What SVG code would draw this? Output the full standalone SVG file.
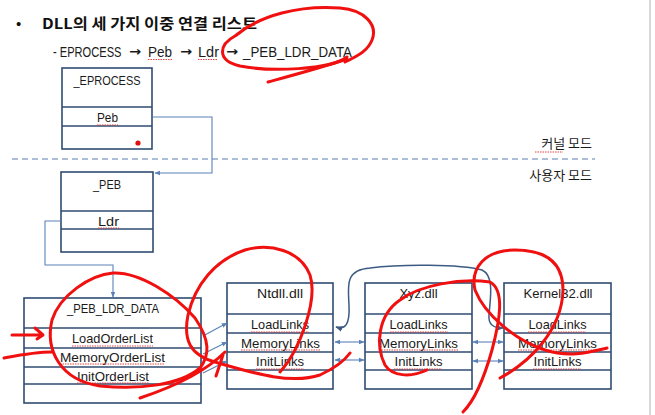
<svg xmlns="http://www.w3.org/2000/svg" width="655" height="415" viewBox="0 0 655 415">
<defs>
<marker id="ah" viewBox="0 0 10 10" refX="9" refY="5" markerWidth="6" markerHeight="6" orient="auto-start-reverse" markerUnits="userSpaceOnUse">
<path d="M0,1 L10,5 L0,9 z" fill="#5B82B8"/>
</marker>
<marker id="ahd" viewBox="0 0 10 10" refX="9" refY="5" markerWidth="7" markerHeight="7" orient="auto-start-reverse" markerUnits="userSpaceOnUse">
<path d="M0,1 L10,5 L0,9 z" fill="#3C5A82"/>
</marker>
<style>
.box{fill:#fff;stroke:#2F4B72;stroke-width:1.6}
.div{stroke:#2F4B72;stroke-width:1.6}
.t{font-family:"Liberation Sans","Noto Sans CJK KR",sans-serif;font-size:13.5px;fill:#1a1a1a;text-anchor:middle}
.k{font-family:"Noto Sans CJK KR","Liberation Sans",sans-serif;font-size:13px;fill:#1a1a1a}
.s{font-family:"Liberation Sans","Noto Sans CJK KR",sans-serif;font-size:15px;fill:#1a1a1a}
.ar{font-family:"DejaVu Sans",sans-serif;font-weight:bold;font-size:13px;fill:#1a1a1a}
.c{fill:none;stroke:#5B82B8;stroke-width:1.1}
.sq{fill:none;stroke:#E03030;stroke-width:0.9;stroke-dasharray:1.5 1}
.red{fill:none;stroke:#F01010;stroke-width:3;stroke-linecap:round;stroke-linejoin:round}
</style>
</defs>
<rect width="655" height="415" fill="#fff"/>
<line x1="650" y1="0" x2="650" y2="415" stroke="#d8d8d8" stroke-width="2"/>

<g id="header">
<text x="16" y="29" font-family="Liberation Sans,sans-serif" font-size="15" fill="#111">•</text>
<text x="42" y="29" font-family="Noto Sans CJK KR,Liberation Sans,sans-serif" font-size="15" font-weight="bold" fill="#111" textLength="215" lengthAdjust="spacingAndGlyphs">DLL의 세 가지 이중 연결 리스트</text>
<text class="s" transform="translate(53,57) scale(0.74,1)" x="0" y="0">- EPROCESS</text>
<text class="ar" x="129" y="56" textLength="12" lengthAdjust="spacingAndGlyphs">→</text>
<text class="s" x="148" y="57" textLength="24" lengthAdjust="spacingAndGlyphs">Peb</text>
<text class="ar" x="180" y="56" textLength="12" lengthAdjust="spacingAndGlyphs">→</text>
<text class="s" x="198" y="57" textLength="21" lengthAdjust="spacingAndGlyphs">Ldr</text>
<text class="ar" x="226" y="56" textLength="12" lengthAdjust="spacingAndGlyphs">→</text>
<text class="s" x="243" y="57" textLength="109" lengthAdjust="spacingAndGlyphs">_PEB_LDR_DATA</text>
<path class="sq" d="M148,59.5 H172 M198,59.5 H218"/>
</g>

<g id="mode">
<line x1="12" y1="159" x2="595" y2="159" stroke="#5B7FB0" stroke-width="1" stroke-dasharray="6 4"/>
<text class="k" x="592" y="148" text-anchor="end">커널 모드</text>
<text class="k" x="592" y="180" text-anchor="end">사용자 모드</text>
<path class="sq" d="M535,152 H563"/>
</g>

<g id="eprocess">
<rect class="box" x="62" y="68" width="90" height="81"/>
<line class="div" x1="62" y1="107" x2="152" y2="107"/>
<line class="div" x1="62" y1="126" x2="152" y2="126"/>
<text class="t" x="107" y="85" textLength="67" lengthAdjust="spacingAndGlyphs">_EPROCESS</text>
<text class="t" x="107.5" y="122" textLength="21" lengthAdjust="spacingAndGlyphs">Peb</text>
<path class="sq" d="M97,125 H118"/>
<circle cx="138" cy="143" r="2.6" fill="#E01010"/>
</g>

<g id="peb">
<rect class="box" x="61" y="172" width="92" height="80"/>
<line class="div" x1="61" y1="211" x2="153" y2="211"/>
<line class="div" x1="61" y1="229" x2="153" y2="229"/>
<text class="t" x="107" y="189" textLength="28" lengthAdjust="spacingAndGlyphs">_PEB</text>
<text class="t" x="108.5" y="226" textLength="21" lengthAdjust="spacingAndGlyphs">Ldr</text>
<path class="sq" d="M98,228 H119"/>
</g>

<g id="peb_ldr_data">
<rect class="box" x="24" y="298" width="177" height="105"/>
<line class="div" x1="24" y1="328" x2="201" y2="328"/>
<line class="div" x1="24" y1="348" x2="201" y2="348"/>
<line class="div" x1="24" y1="367" x2="201" y2="367"/>
<line class="div" x1="24" y1="384" x2="201" y2="384"/>
<text class="t" x="113" y="313" textLength="92" lengthAdjust="spacingAndGlyphs">_PEB_LDR_DATA</text>
<text class="t" x="112.5" y="343" textLength="81" lengthAdjust="spacingAndGlyphs">LoadOrderList</text>
<text class="t" x="112.5" y="362" textLength="105" lengthAdjust="spacingAndGlyphs">MemoryOrderList</text>
<text class="t" x="113" y="381" textLength="72" lengthAdjust="spacingAndGlyphs">InitOrderList</text>
<path class="sq" d="M72,346 H153 M60,364 H165 M77,383 H149"/>
</g>

<g id="ntdll">
<rect class="box" x="227" y="283" width="106" height="106"/>
<line class="div" x1="227" y1="314" x2="333" y2="314"/>
<line class="div" x1="227" y1="333" x2="333" y2="333"/>
<line class="div" x1="227" y1="352" x2="333" y2="352"/>
<line class="div" x1="227" y1="370" x2="333" y2="370"/>
<text class="t" x="280" y="298" textLength="46" lengthAdjust="spacingAndGlyphs">Ntdll.dll</text>
<text class="t" x="280" y="329" textLength="58" lengthAdjust="spacingAndGlyphs">LoadLinks</text>
<text class="t" x="280.5" y="348" textLength="79" lengthAdjust="spacingAndGlyphs">MemoryLinks</text>
<text class="t" x="280" y="366" textLength="48" lengthAdjust="spacingAndGlyphs">InitLinks</text>
<path class="sq" d="M251,332 H309 M241,350 H320 M256,369 H304"/>
</g>

<g id="xyz">
<rect class="box" x="365" y="283" width="107" height="106"/>
<line class="div" x1="365" y1="314" x2="472" y2="314"/>
<line class="div" x1="365" y1="333" x2="472" y2="333"/>
<line class="div" x1="365" y1="352" x2="472" y2="352"/>
<line class="div" x1="365" y1="370" x2="472" y2="370"/>
<text class="t" x="418.5" y="298" textLength="38" lengthAdjust="spacingAndGlyphs">Xyz.dll</text>
<text class="t" x="418.5" y="329" textLength="58" lengthAdjust="spacingAndGlyphs">LoadLinks</text>
<text class="t" x="418.5" y="348" textLength="79" lengthAdjust="spacingAndGlyphs">MemoryLinks</text>
<text class="t" x="418.5" y="366" textLength="48" lengthAdjust="spacingAndGlyphs">InitLinks</text>
<path class="sq" d="M390,332 H448 M379,350 H458 M394,369 H442"/>
</g>

<g id="kernel32">
<rect class="box" x="504" y="283" width="107" height="106"/>
<line class="div" x1="504" y1="314" x2="611" y2="314"/>
<line class="div" x1="504" y1="333" x2="611" y2="333"/>
<line class="div" x1="504" y1="352" x2="611" y2="352"/>
<line class="div" x1="504" y1="370" x2="611" y2="370"/>
<text class="t" x="558" y="298" textLength="69" lengthAdjust="spacingAndGlyphs">Kernel32.dll</text>
<text class="t" x="557.5" y="329" textLength="58" lengthAdjust="spacingAndGlyphs">LoadLinks</text>
<text class="t" x="557.5" y="348" textLength="79" lengthAdjust="spacingAndGlyphs">MemoryLinks</text>
<text class="t" x="557.5" y="366" textLength="48" lengthAdjust="spacingAndGlyphs">InitLinks</text>
<path class="sq" d="M528,332 H586 M518,350 H597 M533,369 H581"/>
</g>

<g id="connectors">
<path class="c" d="M153,117 H212 V173 H155" marker-end="url(#ah)"/>
<path class="c" d="M61,221 H45 V265 H113 V297" marker-end="url(#ah)"/>
<path class="c" d="M203,336 L227,323" marker-end="url(#ah)"/>
<path class="c" d="M203,354 L227,342" marker-end="url(#ah)"/>
<path class="c" d="M203,373 L227,361" marker-end="url(#ah)"/>
<path class="c" d="M335,342 H364" marker-start="url(#ah)" marker-end="url(#ah)"/>
<path class="c" d="M335,360 H364" marker-start="url(#ah)" marker-end="url(#ah)"/>
<path class="c" d="M473,342 H503" marker-start="url(#ah)" marker-end="url(#ah)"/>
<path class="c" d="M473,361 H503" marker-start="url(#ah)" marker-end="url(#ah)"/>
<path d="M336,327 C345,330 350,325 349,305 C348,285 345,270 370,268 C400,264 460,264 482,270 C495,276 490,300 489,315 C488,325 494,328 503,328" fill="none" stroke="#3C5A82" stroke-width="1.5" marker-start="url(#ahd)" marker-end="url(#ahd)"/>
</g>

<g id="annotations">
<path class="red" d="M347,57 C330,70 270,72 240,66 C215,60 220,44 235,36 C260,15 300,5 340,8 C365,10 378,25 372,40 C368,50 360,55 345,62"/>
<path class="red" d="M268,82 C290,76 320,68 347,59"/>
<path class="red" d="M113,273 C90,275 60,295 52,320 C45,350 60,380 100,386 C140,390 180,385 200,368 C210,355 210,340 195,318 C175,295 140,272 113,273"/>
<path class="red" d="M140,398 C170,388 205,372 225,352 M223,355 L216,376"/>
<path class="red" d="M12,335 H43 M35,328 L43,335 L37,339"/>
<path class="red" d="M4,358 C20,355 35,352 52,352"/>
<path class="red" d="M280,372 C300,350 318,300 310,275 C300,250 270,243 245,250 C215,260 195,285 188,315 C183,340 190,355 215,362 C250,372 290,385 320,375 C335,368 345,360 350,353"/>
<path class="red" d="M427,370 C410,378 392,376 385,365 C375,345 378,315 400,300 C420,285 460,278 490,282 C505,290 500,320 492,350 C485,375 475,400 463,412"/>
<path class="red" d="M500,378 C530,362 562,330 563,290 C563,262 545,250 515,250 C485,250 470,268 475,290 C485,315 515,340 545,350 C570,358 590,352 607,348"/>
</g>
</svg>
